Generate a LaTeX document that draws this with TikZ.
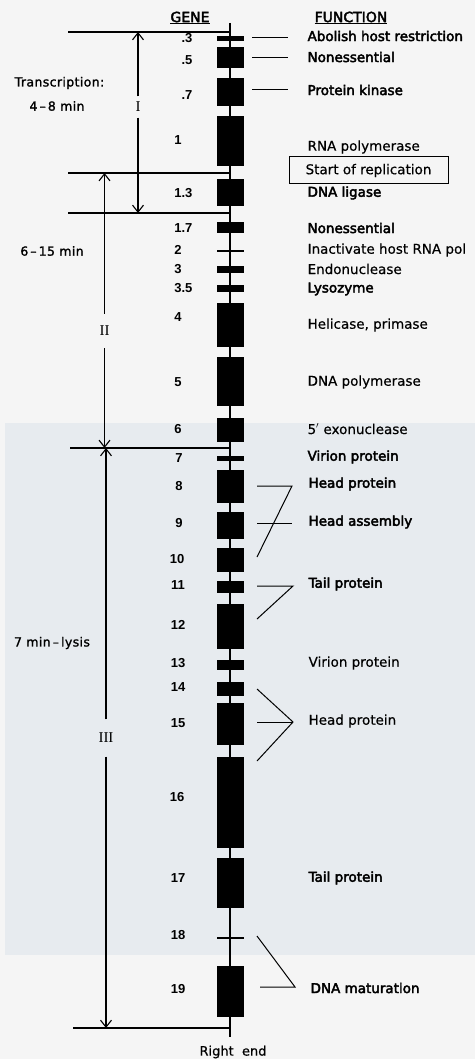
\documentclass[tikz,border=0pt]{standalone}
\usepackage{fontspec}
\setmainfont{DejaVu Sans}[FakeBold=0.4]
\newfontfamily\bsans[FakeBold=3]{DejaVu Sans}
\newfontfamily\sidef[FakeBold=1.5,LetterSpace=3]{DejaVu Sans}
\newfontfamily\numf{Liberation Sans Bold}
\newfontfamily\romanf{Liberation Serif}
\usetikzlibrary{arrows.meta}
\definecolor{bgc}{RGB}{245,245,245}
\definecolor{tint}{RGB}{231,235,239}
\begin{document}
\begin{tikzpicture}[x=1pt,y=-1pt,
  line width=1.2pt,
  >={Straight Barb[length=7pt,width=11pt,line width=1.1pt]},
  gene/.style={fill=black, draw=none, inner sep=0, minimum width=27pt, minimum height=#1},
  num/.style={font=\fontsize{13}{13}\numf, inner sep=0},
  fn/.style={font=\fontsize{13.5}{14}\selectfont, anchor=west, inner sep=0},
  fnb/.style={font=\fontsize{13.5}{14}\bsans, anchor=west, inner sep=0},
  side/.style={font=\fontsize{12.5}{13}\sidef, inner sep=0},
  roman/.style={font=\fontsize{15}{15}\romanf, inner sep=0},
  head/.style={font=\fontsize{14}{14}\bsans, inner sep=0},
  thin/.style={line width=1pt}
]
\useasboundingbox (0,0) rectangle (475,1059);
\fill[bgc] (0,0) rectangle (475,1059);
\fill[tint] (5,423) rectangle (475,955);

% headers
\node[head] (hgene) at (190,18) {\underline{GENE}};
\node[head] (hfunc) at (351,18) {\underline{FUNCTION}};

% backbone
\coordinate (top) at (230,23);
\coordinate (bot) at (230,1037);
\draw[line width=1.4pt] (top) -- (bot);

% genes
\node[gene=4.5pt] (g03) at (230,38.5) {};
\node[gene=21pt]  (g05) at (230,57.5) {};
\node[gene=28pt]  (g07) at (230,92) {};
\node[gene=50pt]  (g1)  at (230,141) {};
\node[gene=27pt]  (g13) at (230,192.5) {};
\node[gene=11pt]  (g17) at (230,227.5) {};
\node[gene=1.8pt] (g2)  at (230,251) {};
\node[gene=7pt]   (g3)  at (230,269) {};
\node[gene=7pt]   (g35) at (230,288.5) {};
\node[gene=44pt]  (g4)  at (230,325) {};
\node[gene=49pt]  (g5)  at (230,381.5) {};
\node[gene=24pt]  (g6)  at (230,430) {};
\node[gene=5pt]   (g7)  at (230,458.5) {};
\node[gene=33pt]  (g8)  at (230,486.5) {};
\node[gene=27pt]  (g9)  at (230,525.5) {};
\node[gene=24pt]  (g10) at (230,560) {};
\node[gene=12pt]  (g11) at (230,587) {};
\node[gene=45pt]  (g12) at (230,626.5) {};
\node[gene=10pt]  (g13b) at (230,665) {};
\node[gene=14pt]  (g14) at (230,689) {};
\node[gene=42pt]  (g15) at (230,724) {};
\node[gene=91pt]  (g16) at (230,802.5) {};
\node[gene=50pt]  (g17b) at (230,883) {};
\node[gene=1.8pt] (g18) at (230,938) {};
\node[gene=51pt]  (g19) at (230,991.5) {};

% gene numbers
\node[num, anchor=east] (n03) at (193,38) {.3};
\node[num, anchor=east] (n05) at (193,60) {.5};
\node[num, anchor=east] (n07) at (193,95) {.7};
\node[num] (n1)  at (178,140) {1};
\node[num, anchor=east] (n13) at (193,193) {1.3};
\node[num, anchor=east] (n17) at (193,228) {1.7};
\node[num] (n2)  at (178,250) {2};
\node[num] (n3)  at (178,269) {3};
\node[num, anchor=east] (n35) at (193,288) {3.5};
\node[num] (n4)  at (178,317) {4};
\node[num] (n5)  at (178,382) {5};
\node[num] (n6)  at (178,429) {6};
\node[num] (n7)  at (179,458) {7};
\node[num] (n8)  at (179,486) {8};
\node[num] (n9)  at (179,523) {9};
\node[num] (n10) at (177,559) {10};
\node[num] (n11) at (178,585) {11};
\node[num] (n12) at (178,625) {12};
\node[num] (n13b) at (178,663) {13};
\node[num] (n14) at (178,687) {14};
\node[num] (n15) at (178,723) {15};
\node[num] (n16) at (177,797) {16};
\node[num] (n17b) at (178,878) {17};
\node[num] (n18) at (178,935) {18};
\node[num] (n19) at (178,989) {19};

% functions
\node[fnb] (f03) at (307,36) {Abolish host restriction};
\node[fnb] (f05) at (307,57) {Nonessential};
\node[fnb] (f07) at (307,90) {Protein kinase};
\node[fn]  (f1)  at (307,147) {RNA polymerase};
\node[draw, thin, minimum width=159pt, minimum height=27pt, font=\fontsize{13.5}{14}\selectfont, inner sep=0] (rep) at (368.5,170.5) {Start of replication};
\node[fnb] (f13) at (307,193) {DNA ligase};
\node[fnb] (f17) at (307,228) {Nonessential};
\node[fn]  (f2)  at (307,250) {Inactivate host RNA pol};
\node[fn]  (f3)  at (307,269) {Endonuclease};
\node[fnb] (f35) at (307,289) {Lysozyme};
\node[fn]  (f4)  at (307,325) {Helicase, primase};
\node[fn]  (f5)  at (307,382) {DNA polymerase};
\node[fn]  (f6)  at (307,429) {5$'$ exonuclease};
\node[fnb] (f7)  at (307,457) {Virion protein};
\node[fnb] (f8)  at (308,484) {Head protein};
\node[fnb] (f9)  at (308,522) {Head assembly};
\node[fnb] (f11) at (308,584) {Tail protein};
\node[fn]  (f13b) at (308,663) {Virion protein};
\node[fn]  (f15) at (308,721) {Head protein};
\node[fnb] (f17b) at (308,878) {Tail protein};
\node[fnb] (f19) at (310,988) {DNA maturation};

% short function lines
\coordinate (l03a) at (252,38);  \coordinate (l03b) at (288,38);
\coordinate (l05a) at (252,58);  \coordinate (l05b) at (288,58);
\coordinate (l07a) at (252,90);  \coordinate (l07b) at (288,90);
\draw[thin] (l03a) -- (l03b);
\draw[thin] (l05a) -- (l05b);
\draw[thin] (l07a) -- (l07b);

% brackets
\coordinate (b8a) at (257,486); \coordinate (b8v) at (292,486); \coordinate (b8c) at (257,557);
\draw[thin] (b8a) -- (b8v) -- (b8c);
\coordinate (b9a) at (257,523); \coordinate (b9b) at (292,523);
\draw[thin] (b9a) -- (b9b);
\coordinate (b11a) at (257,586); \coordinate (b11v) at (293,586); \coordinate (b11c) at (257,619);
\draw[thin] (b11a) -- (b11v) -- (b11c);
\coordinate (b15a) at (257,689); \coordinate (b15v) at (293,722); \coordinate (b15c) at (257,761);
\coordinate (b15m) at (257,722);
\draw[thin] (b15a) -- (b15v) -- (b15c);
\draw[thin] (b15m) -- (b15v);
\coordinate (b19a) at (257,936); \coordinate (b19v) at (295,987); \coordinate (b19m) at (260,987);
\draw[thin] (b19a) -- (b19v) -- (b19m);

% horizontal time marks
\coordinate (h1) at (68,32);
\coordinate (h2) at (68,173);
\coordinate (h3) at (68,213);
\coordinate (h4) at (70,448);
\coordinate (h5) at (73,1028);
\foreach \h in {h1,h2,h3,h4,h5} \draw (\h) -- (\h -| top);

% side labels
\node[side] (t1) at (59.5,83) {Transcription:};
\node[side] (t2) at (57,106) {4\,–\,8 min};
\node[side] (t3) at (52,251) {6\,–\,15 min};
\node[side] (t4) at (52,643) {7 min\,–\,lysis};

% class arrows
\node[roman, minimum height=20pt] (cI) at (138,107) {I};
\node[roman, minimum height=33pt] (cII) at (104.5,331) {II};
\node[roman, minimum height=36pt] (cIII) at (106,738) {III};
\coordinate (aIt) at (138,32);  \coordinate (aIb) at (138,213);
\coordinate (aIIt) at (104.5,173); \coordinate (aIIb) at (104.5,448);
\coordinate (aIIIt) at (106,448); \coordinate (aIIIb) at (106,1028);
\draw[->] (cI.north) -- (aIt);
\draw[->] (cI.south) -- (aIb);
\draw[->] (cII.north) -- (aIIt);
\draw[->] (cII.south) -- (aIIb);
\draw[->] (cIII.north) -- (aIIIt);
\draw[->] (cIII.south) -- (aIIIb);

% right end
\node[font=\fontsize{13}{13}\selectfont, inner sep=0] (rend) at (233,1052) {Right\ \ end};
\end{tikzpicture}
\end{document}
